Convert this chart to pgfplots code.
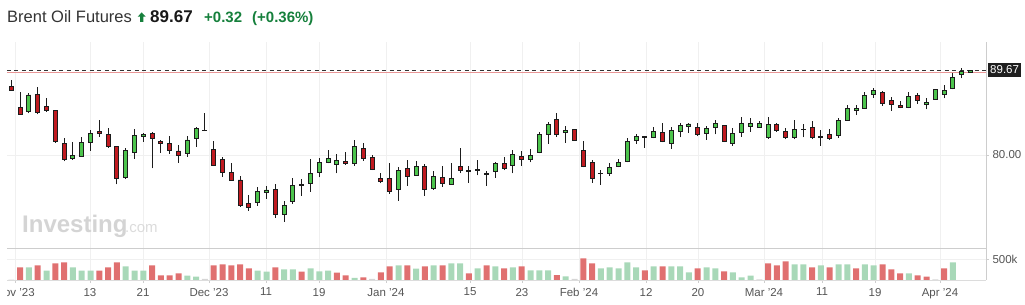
\documentclass[border=0pt]{standalone}
\usepackage{fontspec}
\setmainfont{Liberation Sans}
\usepackage{pgfplots}
\usepackage{pgfplotstable}
\pgfplotsset{compat=1.18}

\definecolor{cgreen}{RGB}{76,196,76}
\definecolor{cred}{RGB}{192,26,32}
\definecolor{cline}{RGB}{28,28,28}
\definecolor{vred}{RGB}{224,112,112}
\definecolor{vgreen}{RGB}{168,216,184}
\definecolor{vgrey}{RGB}{214,214,214}
\definecolor{tgrey}{RGB}{85,85,85}
\definecolor{ttitle}{RGB}{51,51,51}
\definecolor{upgreen}{RGB}{22,128,60}
\definecolor{gridc}{RGB}{240,240,240}
\definecolor{framec}{RGB}{205,205,205}
\definecolor{prevred}{RGB}{232,150,150}

\pgfplotstableread{
i O H L C
0 87.85 88.53 87.30 87.36
1 85.42 87.13 84.60 84.63
2 84.93 87.05 84.74 86.83
3 86.94 87.74 84.63 84.82
4 85.57 86.48 84.93 85.04
5 85.12 85.15 81.40 81.52
6 81.33 81.90 79.28 79.51
7 79.62 81.48 79.47 79.96
8 79.85 82.01 79.81 81.44
9 81.44 82.84 80.49 82.50
10 82.73 83.98 82.09 82.43
11 82.35 83.03 80.83 81.02
12 81.02 81.05 76.66 77.35
13 77.46 80.76 77.27 80.57
14 80.30 82.96 79.58 82.24
15 82.12 82.46 81.52 82.39
16 82.50 82.65 78.48 81.90
17 81.59 81.66 80.27 81.33
18 81.33 82.16 80.15 80.53
19 80.46 81.14 79.13 79.96
20 80.19 82.16 79.81 81.71
21 81.90 83.22 80.95 83.07
22 82.84 84.82 82.73 82.76
23 80.68 81.59 78.75 78.82
24 79.54 79.77 77.54 78.03
25 78.03 79.09 77.08 77.12
26 77.16 77.57 74.12 74.24
27 74.50 75.45 73.67 74.05
28 74.62 76.32 74.20 75.90
29 75.75 76.47 75.03 76.02
30 76.09 76.70 72.87 73.25
31 73.25 74.77 72.42 74.27
32 74.73 77.35 74.46 76.55
33 76.50 77.27 75.37 76.60
34 76.78 79.55 75.83 77.91
35 78.07 79.62 77.46 79.17
36 79.20 80.53 79.05 79.62
37 78.94 80.11 77.91 79.39
38 79.28 80.30 78.90 79.01
39 79.05 81.67 78.79 80.99
40 80.76 81.37 79.36 79.58
41 79.73 80.00 78.29 78.37
42 77.35 77.95 76.78 76.97
43 77.35 79.09 75.60 75.90
44 76.09 78.60 74.80 78.26
45 78.48 79.39 76.51 77.57
46 77.69 79.32 77.65 78.71
47 78.71 78.94 75.37 76.09
48 76.25 78.18 76.02 77.54
49 77.46 78.75 76.40 76.78
50 76.66 79.09 76.66 77.35
51 78.71 80.76 77.95 78.22
52 78.15 78.79 76.85 78.22
53 78.29 79.39 77.69 78.35
54 77.82 78.14 76.51 77.88
55 78.14 79.24 77.42 79.09
56 79.09 79.77 78.29 78.45
57 78.82 80.57 77.91 80.08
58 79.85 80.46 78.79 79.51
59 79.51 80.64 79.17 79.96
60 80.27 82.58 80.19 82.35
61 82.35 83.72 81.29 83.49
62 84.06 84.78 82.09 82.35
63 82.58 83.30 81.40 82.81
64 82.92 82.95 81.60 81.67
65 80.53 81.55 78.60 78.71
66 79.20 79.43 76.85 77.31
67 77.88 78.26 76.62 77.94
68 77.91 79.05 77.65 78.56
69 78.71 79.51 78.60 79.20
70 79.28 81.90 79.17 81.55
71 81.67 82.39 81.29 82.12
72 82.02 82.12 80.83 82.08
73 82.01 83.15 81.90 82.69
74 82.58 83.64 81.44 81.52
75 81.33 83.15 80.72 82.81
76 82.69 83.60 82.01 83.38
77 83.26 83.64 82.54 83.53
78 83.11 83.64 82.16 82.35
79 82.46 83.34 81.74 83.03
80 83.15 83.98 82.35 83.60
81 83.38 83.42 81.48 81.55
82 81.33 83.03 81.06 82.46
83 82.58 84.29 82.09 83.60
84 83.26 84.17 82.65 83.60
85 83.15 83.87 83.11 83.60
86 81.97 84.32 81.86 83.49
87 83.49 83.60 82.65 82.81
88 82.69 83.07 81.78 81.97
89 81.97 83.94 81.78 82.92
90 82.90 83.53 82.01 82.95
91 83.15 83.83 81.78 81.97
92 82.10 82.81 81.06 82.04
93 82.35 82.92 81.71 81.86
94 82.20 84.17 81.97 83.94
95 83.94 85.69 83.91 85.31
96 85.08 85.65 84.55 85.31
97 85.31 87.13 85.23 86.79
98 86.90 87.62 86.52 87.36
99 87.13 87.24 85.61 85.88
100 86.22 86.56 85.04 85.76
101 85.65 86.11 85.31 85.42
102 85.42 87.13 85.31 86.67
103 86.79 87.02 85.84 86.22
104 85.76 86.48 85.20 85.99
105 86.33 87.47 86.33 87.47
106 86.90 87.93 86.45 87.36
107 87.58 89.29 87.47 88.84
108 89.18 89.86 88.72 89.52
109 89.40 89.67 89.40 89.67
}\candles

\pgfplotsset{
  frame/.style={
    anchor=south west, scale only axis, width=979pt,
    xmin=-0.489, xmax=110.76,
  },
  ticklabel style={font=\fontsize{11.5}{13}\selectfont, text=tgrey},
}

\begin{document}
\begin{tikzpicture}[x=1pt,y=1pt]
\useasboundingbox (0,0) rectangle (1025,305);

% price panel: grid, reference lines, wicks
\begin{axis}[frame, at={(7pt,57pt)}, height=206pt,
  ymin=69.42, ymax=92.86,
  axis line style={draw=none},
  xtick={0.45,8.94,14.97,22.47,28.94,34.97,42.58,52.13,58.03,64.51,72.13,78.03,85.53,92.13,98.16,105.53},
  xticklabels={},
  xtick style={draw=none},
  xmajorgrids, ymajorgrids,
  major grid style={draw=gridc, line width=0.8pt},
  ytick={80}, yticklabels={80.00},
  yticklabel pos=right, ytick pos=right,
  ytick style={draw=framec}, major tick length=3pt, tick align=outside,
]
\addplot[draw=prevred, line width=0.9pt] coordinates {(-0.489,89.35) (110.76,89.35)};
\addplot[draw=black!80, line width=0.9pt, dash pattern=on 4pt off 3.5pt] coordinates {(-0.489,89.67) (110.76,89.67)};
\addplot[draw=none, no markers,
  error bars/.cd, y dir=plus, y explicit, error mark=none,
  error bar style={draw=cline, solid, line width=0.9pt}]
  table[x=i, y=L, y error expr={\thisrow{H}-\thisrow{L}}] {\candles};
\end{axis}

% candle bodies
\begin{axis}[frame, at={(7pt,57pt)}, height=206pt,
  ymin=69.42, ymax=92.86, hide axis,
  ybar stacked, bar width=4pt,
]
\addplot[draw=none, fill=none] table[x=i, y expr={min(\thisrow{O},\thisrow{C})}] {\candles};
\addplot[fill=cgreen, draw=cline, line width=0.9pt] table[x=i, y expr={max(\thisrow{C}-\thisrow{O},0)}] {\candles};
\addplot[fill=cred, draw=cline, line width=0.9pt] table[x=i, y expr={max(\thisrow{O}-\thisrow{C},0)}] {\candles};
\end{axis}

% volume panel (thousands)
\begin{axis}[frame, at={(7pt,25pt)}, height=32pt,
  ymin=0, ymax=761.9,
  axis line style={draw=none},
  ybar, bar width=6pt, bar shift=0pt,
  xtick={0.45,8.94,14.97,22.47,28.94,34.97,42.58,52.13,58.03,64.51,72.13,78.03,85.53,92.13,98.16,105.53},
  xticklabels={Nov '23,13,21,Dec '23,11,19,Jan '24,15,23,Feb '24,12,20,Mar '24,11,19,Apr '24},
  xticklabel style={yshift=-1.5pt},
  xtick pos=bottom,
  xmajorgrids, ymajorgrids,
  major grid style={draw=gridc, line width=0.8pt},
  ytick={500}, yticklabels={500k},
  yticklabel pos=right, ytick pos=right,
  tick style={draw=framec}, major tick length=3pt, tick align=outside,
  scaled y ticks=false,
]
\addplot[fill=vred, draw=none] coordinates {(1,302) (3,349) (5,397) (6,421) (10,222) (11,302) (12,421) (16,349) (17,111) (18,111) (19,159) (23,349) (24,373) (25,349) (26,373) (27,278) (30,302) (33,199) (37,175) (38,111) (40,64) (42,183) (43,326) (45,349) (47,326) (49,349) (52,159) (54,349) (56,278) (58,326) (62,119) (65,516) (66,397) (72,230) (74,326) (78,278) (81,206) (86,397) (87,349) (88,445) (91,302) (93,302) (96,278) (99,373) (100,254) (101,159) (103,111) (104,79) (106,278)};
\addplot[fill=vgreen, draw=none] coordinates {(2,302) (4,222) (7,302) (8,222) (9,222) (13,326) (14,222) (15,222) (20,103) (21,79) (28,222) (29,199) (31,254) (32,254) (34,278) (35,206) (36,222) (39,48) (44,349) (46,270) (48,349) (50,397) (51,397) (53,278) (55,326) (57,302) (59,230) (60,230) (61,230) (63,87) (67,278) (68,302) (69,278) (70,421) (71,302) (73,326) (75,326) (76,326) (77,183) (79,302) (80,278) (82,183) (83,64) (84,103) (89,373) (90,373) (92,349) (94,373) (95,373) (97,373) (98,349) (102,159) (107,421)};
\addplot[fill=vgrey, draw=none] coordinates {(0,10) (22,24) (41,24) (64,24) (85,16) (105,16)};
\end{axis}

% frame lines
\draw[framec, line width=0.8pt] (7,57) -- (986,57);
\draw[framec!70, line width=0.8pt] (7,25) -- (986,25);
\draw[framec, line width=0.8pt] (986,25) -- (986,263);
\fill[white] (0,0) rectangle (7,22);

% current price box
\node[anchor=west, fill=black!88, text=white, inner xsep=2.5pt, inner ysep=2.6pt,
  font=\fontsize{11.5}{13}\selectfont] at (987.5,235) {89.67};

% watermark
\node[anchor=base west, inner sep=0, text=black!17, font=\bfseries\fontsize{24}{26}\selectfont] at (22,72.3) {Investing};
\node[anchor=base west, inner sep=0, text=black!14, font=\fontsize{15}{17}\selectfont] at (125,72.3) {.com};

% title
\node[anchor=base west, inner sep=0, text=ttitle, font=\fontsize{16.5}{18}\selectfont] at (7,282.3) {Brent Oil Futures};
\fill[upgreen] (137.7,288.3) -- (141.7,292.6) -- (145.7,288.3) -- (143.4,288.3) -- (143.4,283) -- (140,283) -- (140,288.3) -- cycle;
\node[anchor=base west, inner sep=0, text=black!90, font=\bfseries\fontsize{17}{19}\selectfont] at (150,282.3) {89.67};
\node[anchor=base west, inner sep=0, text=upgreen, font=\bfseries\fontsize{15}{17}\selectfont] at (204,282.3) {+0.32};
\node[anchor=base west, inner sep=0, text=upgreen, font=\bfseries\fontsize{15}{17}\selectfont] at (252,282.3) {(+0.36\%)};
\end{tikzpicture}
\end{document}
